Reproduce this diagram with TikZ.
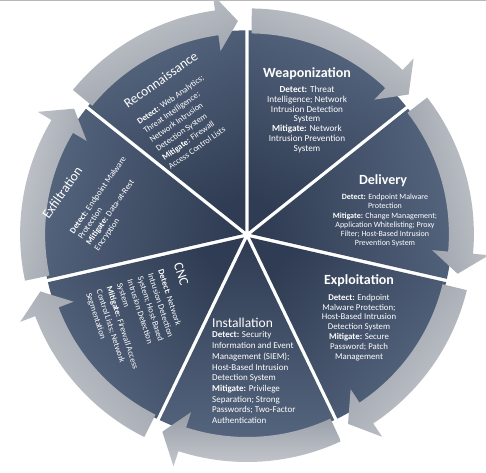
\documentclass[tikz,border=0pt]{standalone}
\usepackage{fontspec}
\setmainfont{Carlito}
\usetikzlibrary{calc}
\definecolor{wlight}{HTML}{56667F}
\definecolor{wdark}{HTML}{2F3C53}
\definecolor{alight}{HTML}{C6C9CF}
\definecolor{adark}{HTML}{979CA5}
\definecolor{topline}{HTML}{B8B8B8}
\tikzset{
  ttlb/.style={font=\fontsize{14}{16}\selectfont\bfseries, text=white, inner sep=0pt},
  ttlr/.style={font=\fontsize{13.5}{15}\selectfont, text=white, inner sep=0pt},
  bdy/.style={text=white, inner sep=0pt},
}
\begin{document}
\begin{tikzpicture}[x=1pt,y=1pt]
\useasboundingbox (-247,-237) rectangle (239,235);
\fill[white] (-247,-237) rectangle (239,235);
\draw[topline, line width=1pt] (-247,234.5) -- (239,234.5);

\foreach \k in {0,...,6}{
  \pgfmathsetmacro\ts{90-\k*360/7}
  \pgfmathsetmacro\te{\ts-360/7}
  \pgfmathsetmacro\ph{\ts-180/7}
  \pgfmathsetmacro\sa{\ph-90}
  \pgfmathsetmacro\az{\ts-0.8}
  \pgfmathsetmacro\ah{\te+7.8}
  \pgfmathsetmacro\at{\te+2}
  \begin{scope}[shift={(\ph:4)}]
    \shade[top color=wlight, bottom color=wdark, shading angle=\sa]
      (0,0) -- (\ts:201) arc[start angle=\ts, end angle=\te, radius=201] -- cycle;
    \shade[top color=alight, bottom color=adark, shading angle=\sa]
      (\az:223) arc[start angle=\az, end angle=\ah, radius=223]
      -- (\ah:239) -- (\at:210.5) -- (\ah:182) -- (\ah:198)
      arc[start angle=\ah, end angle=\az, radius=198] -- cycle;
  \end{scope}
}

% Weaponization
\node[ttlb, anchor=base] (weapT) at (60,158) {Weaponization};
\node[bdy, anchor=north, align=center, font=\fontsize{9.2}{9.8}\selectfont] (weapB) at (60,149)
  {\textbf{Detect:} Threat\\Intelligence; Network\\Intrusion Detection\\System\\\textbf{Mitigate:} Network\\Intrusion Prevention\\System};

% Delivery
\node[ttlb, anchor=base] (delT) at (136,51) {Delivery};
\node[bdy, anchor=north, align=center, font=\fontsize{8}{9.2}\selectfont] (delB) at (138,41)
  {\textbf{Detect:} Endpoint Malware\\Protection\\\textbf{Mitigate:} Change Management;\\Application Whitelisting; Proxy\\Filter; Host-Based Intrusion\\Prevention System};

% Exploitation
\node[ttlb, anchor=base] (expT) at (112,-49) {Exploitation};
\node[bdy, anchor=north, align=center, font=\fontsize{8.8}{9.8}\selectfont] (expB) at (112,-59)
  {\textbf{Detect:} Endpoint\\Malware Protection;\\Host-Based Intrusion\\Detection System\\\textbf{Mitigate:} Secure\\Password; Patch\\Management};

% Installation
\node[ttlr, anchor=base west] (insT) at (-35,-92) {Installation};
\node[bdy, anchor=north west, align=left, font=\fontsize{9}{10.7}\selectfont] (insB) at (-35,-96.5)
  {\textbf{Detect:} Security\\Information and Event\\Management (SIEM);\\Host-Based Intrusion\\Detection System\\\textbf{Mitigate:} Privilege\\Separation; Strong\\Passwords; Two-Factor\\Authentication};

% CNC
\node[ttlr, anchor=base west, rotate=-72] (cncT) at (-73.5,-29.4) {CNC};
\node[bdy, anchor=north west, align=left, rotate=-72, font=\fontsize{8.5}{10.8}\selectfont] (cncB) at (-83.2,-33.8)
  {\textbf{Detect:} Network\\Intrusion Detection\\System; Host-Based\\Intrusion Detection\\System\\\textbf{Mitigate:} Firewall Access\\Control Lists; Network\\Segmentation};

% Exfiltration
\node[ttlr, anchor=base west, rotate=55] (exfT) at (-198.3,15.4) {Exfiltration};
\node[bdy, anchor=north west, align=left, rotate=55, font=\fontsize{8.5}{10}\selectfont] (exfB) at (-178.3,4.3)
  {\textbf{Detect:} Endpoint Malware\\Protection\\\textbf{Mitigate:} Data-at-Rest\\Encryption};

% Reconnaissance
\node[ttlr, anchor=base west, rotate=35] (recT) at (-119.4,126.3) {Reconnaissance};
\node[bdy, anchor=north west, align=left, rotate=35, font=\fontsize{8.5}{10.9}\selectfont] (recB) at (-111,115)
  {\textbf{Detect:} Web Analytics;\\Threat Intelligence;\\Network Intrusion\\Detection System\\\textbf{Mitigate:} Firewall\\Access Control Lists};
\end{tikzpicture}
\end{document}
